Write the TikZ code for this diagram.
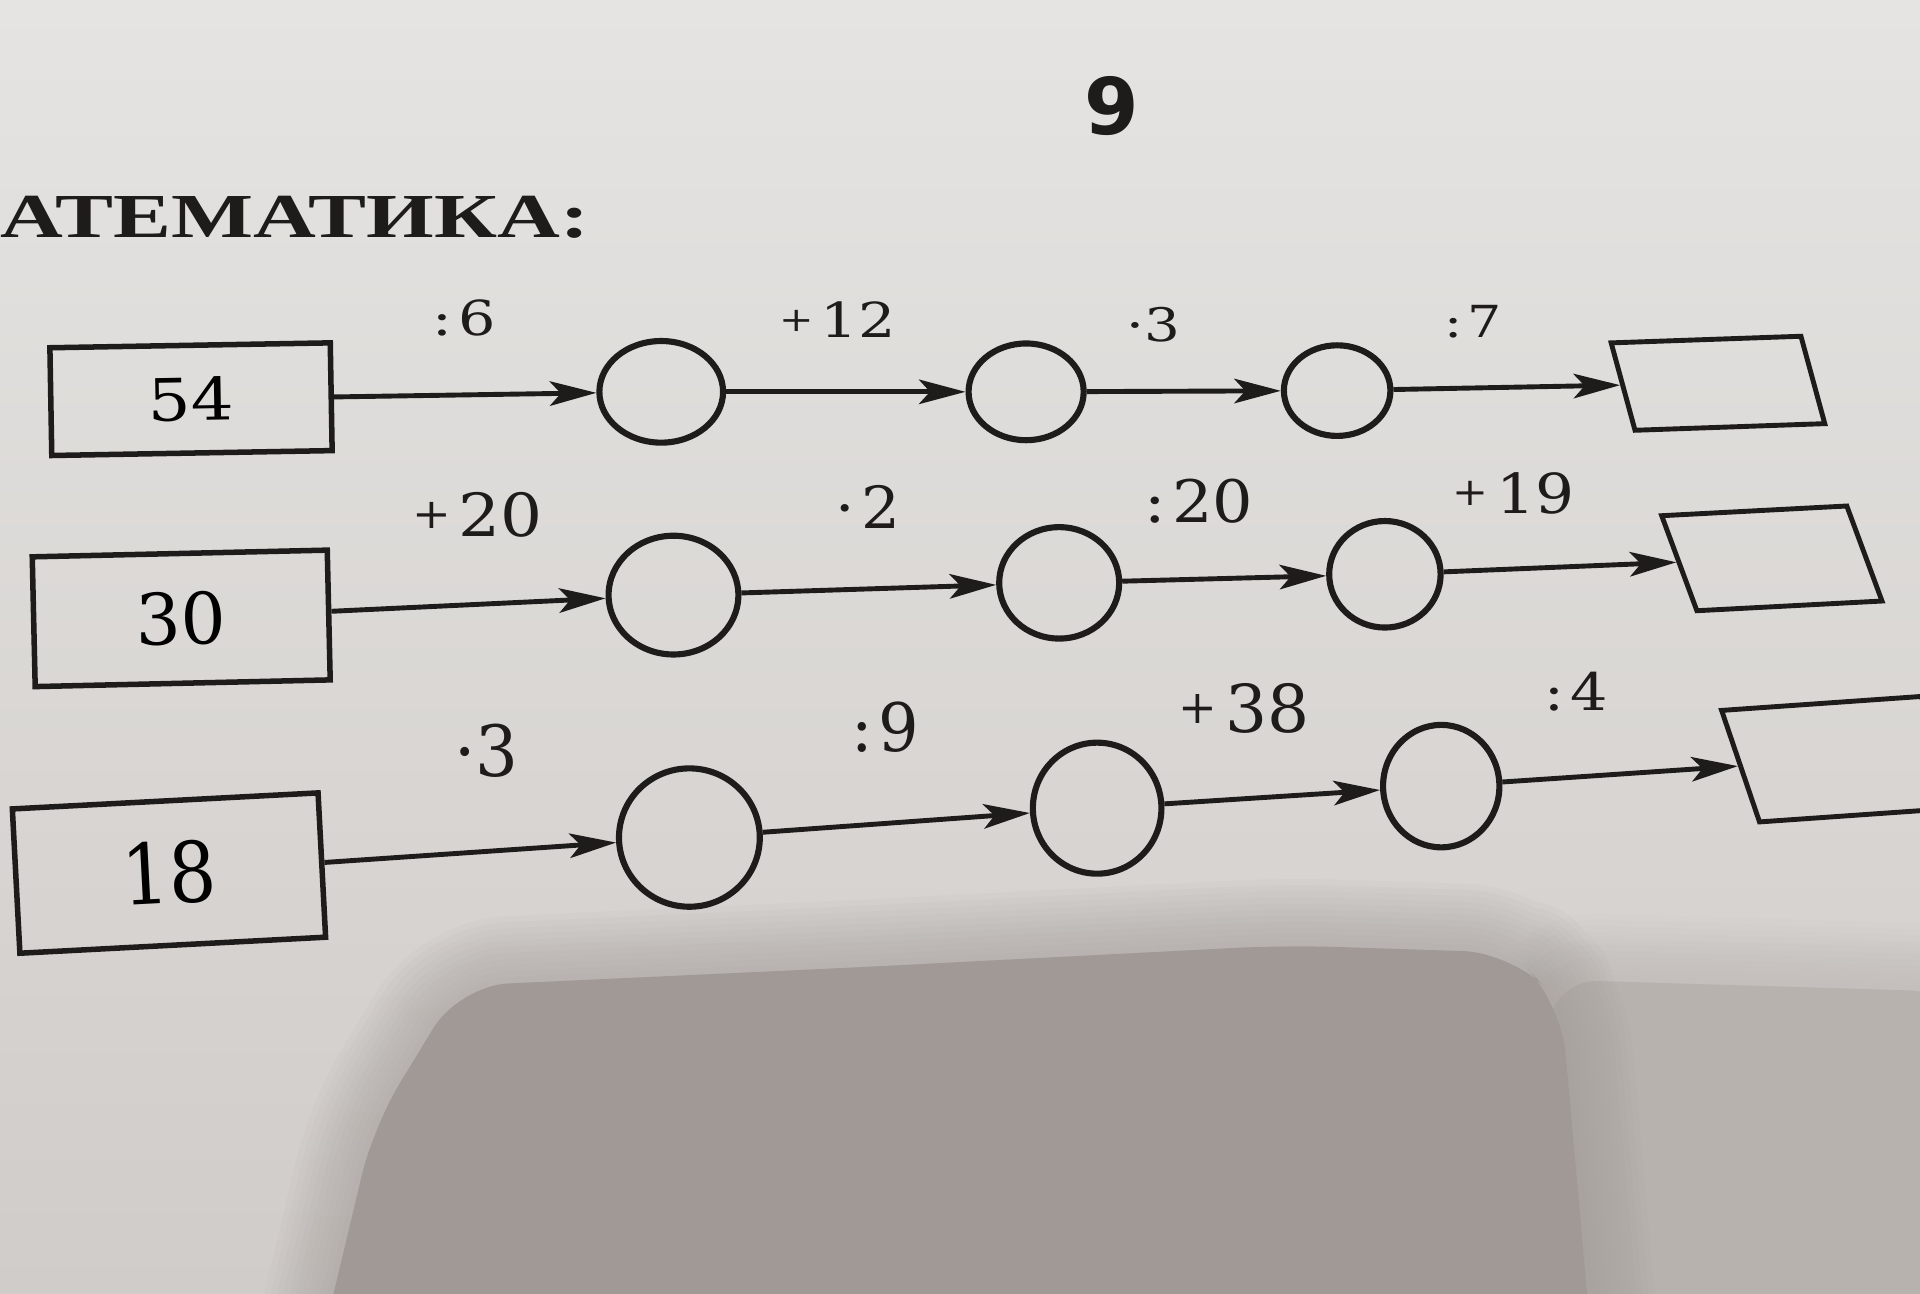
\documentclass[tikz,border=0pt]{standalone}
\usepackage{fontspec}
\usepackage{graphicx}
\usetikzlibrary{shapes.geometric,arrows.meta}
\newfontfamily\titlefont{Liberation Serif}
\newfontfamily\pagenumfont{DejaVu Sans}
\newfontfamily\numfont{DejaVu Serif}
\definecolor{ink}{RGB}{30,27,27}
\definecolor{paper}{RGB}{229,228,226}
\definecolor{paperlow}{RGB}{208,204,201}
\definecolor{shadowc}{RGB}{160,153,150}
\definecolor{shadowr}{RGB}{184,178,175}
\newcommand\fsz[1]{\fontsize{#1}{#1}\selectfont}
\newcommand\vs[2]{\scalebox{1}[#1]{#2}}
\newcommand\pl{\raisebox{0.13em}{\scalebox{0.7}{+}}}
\begin{document}
\begin{tikzpicture}[x=1pt,y=-1pt,
  numbox/.style={draw=ink, line width=4.5pt, rectangle, inner sep=0pt, font=\numfont},
  oval/.style={draw=ink, line width=5pt, ellipse, inner sep=0pt},
  ansbox/.style={draw=ink, line width=4pt, trapezium, trapezium stretches=true, inner sep=1pt},
  arr/.style={draw=ink, line width=4pt, -{Stealth[length=38pt,width=20pt,inset=9pt]}},
  lab/.style={anchor=base, inner sep=0pt, text=ink, font=\numfont},
]
\useasboundingbox (0,0) rectangle (1568,1056);
% paper and shadow
\shade[top color=paper, bottom color=paperlow] (0,0) rectangle (1568,1056);
\begin{scope}
  \clip (0,0) rectangle (1568,1056);
  \foreach \w in {110,100,...,10}{
    \draw[shadowr, opacity=0.06, line width=\w pt, line join=round, rounded corners=40pt]
      (1265,800) -- (1600,810) -- (1600,1100) -- (1265,1100) -- cycle;
  }
  \fill[shadowr, rounded corners=40pt] (1265,800) -- (1600,810) -- (1600,1100) -- (1265,1100) -- cycle;
  \foreach \w in {110,100,...,10}{
    \draw[shadowc, opacity=0.06, line width=\w pt, line join=round, rounded corners=40pt]
      (375,805) -- (700,790) -- (1050,772) -- (1235,778) -- (1275,820) -- (1300,1100) -- (262,1100) -- (305,920) -- cycle;
  }
  \fill[shadowc, rounded corners=40pt]
      (375,805) -- (700,790) -- (1050,772) -- (1235,778) -- (1275,820) -- (1300,1100) -- (262,1100) -- (305,920) -- cycle;
\end{scope}
% title and page number
\node[anchor=base, inner sep=0pt, text=ink] (pg) at (908,110) {\pagenumfont\bfseries\fsz{64}9};
\node[anchor=base west, inner sep=0pt, text=ink] (title) at (0,194) {\titlefont\bfseries\fsz{71}\vs{0.72}{АТЕМАТИКА:}};
% row 1
\node[numbox, minimum width=229, minimum height=88, rotate=1] (b1) at (156,326) {\fsz{55}\vs{0.87}{54}};
\node[oval, minimum width=101, minimum height=83] (a1) at (540,320) {};
\node[oval, minimum width=94, minimum height=79] (a2) at (838,320) {};
\node[oval, minimum width=87, minimum height=74] (a3) at (1092,319) {};
\node[ansbox, trapezium left angle=97, trapezium right angle=83, minimum width=172, minimum height=72, rotate=2] (r1) at (1403,313) {};
\draw[arr] (b1) -- (a1);
\draw[arr] (a1) -- (a2);
\draw[arr] (a2) -- (a3);
\draw[arr] (a3) -- (r1);
\node[lab] (l11) at (379,274) {\fsz{48}\vs{0.82}{:\kern.1em6}};
\node[lab] (l12) at (684,276) {\fsz{48}\vs{0.82}{\pl\kern.12em12}};
\node[lab] (l13) at (942,279) {\fsz{46}\vs{0.82}{·3}};
\node[lab] (l14) at (1203,276) {\fsz{44}\vs{0.82}{:\kern.1em7}};
% row 2
\node[numbox, minimum width=241, minimum height=106, rotate=1.3] (b2) at (148,505) {\fsz{58}\vs{1.0}{30}};
\node[oval, minimum width=106, minimum height=97] (bb1) at (550,486) {};
\node[oval, minimum width=98, minimum height=91] (bb2) at (865,476) {};
\node[oval, minimum width=91, minimum height=87] (bb3) at (1131,469) {};
\node[ansbox, trapezium left angle=101, trapezium right angle=79, minimum width=176, minimum height=79, rotate=3] (r2) at (1447,456) {};
\draw[arr] (b2) -- (bb1);
\draw[arr] (bb1) -- (bb2);
\draw[arr] (bb2) -- (bb3);
\draw[arr] (bb3) -- (r2);
\node[lab] (l21) at (390,438) {\fsz{54}\vs{0.9}{\pl\kern.12em20}};
\node[lab] (l22) at (709,432) {\fsz{50}\vs{0.95}{·\kern.1em2}};
\node[lab] (l23) at (979,427) {\fsz{52}\vs{0.92}{:\kern.1em20}};
\node[lab] (l24) at (1236,419) {\fsz{50}\vs{0.9}{\pl\kern.12em19}};
% row 3
\node[numbox, minimum width=250, minimum height=118, rotate=3] (b3) at (138,713) {\fsz{61}\vs{1.12}{18}};
\node[oval, minimum width=115, minimum height=113] (c1) at (563,684) {};
\node[oval, minimum width=105, minimum height=107] (c2) at (896,660) {};
\node[oval, minimum width=95, minimum height=100] (c3) at (1177,642) {};
\node[ansbox, trapezium left angle=100, trapezium right angle=80, minimum width=188, minimum height=93, rotate=4] (r3) at (1503,620) {};
\draw[arr] (b3) -- (c1);
\draw[arr] (c1) -- (c2);
\draw[arr] (c2) -- (c3);
\draw[arr] (c3) -- (r3);
\node[lab] (l31) at (397,634) {\fsz{55}\vs{1.05}{·3}};
\node[lab] (l32) at (723,614) {\fsz{52}\vs{1.05}{:\kern.1em9}};
\node[lab] (l33) at (1016,598) {\fsz{54}\vs{1.0}{\pl\kern.12em38}};
\node[lab] (l34) at (1287,580) {\fsz{48}\vs{0.88}{:\kern.1em4}};
\end{tikzpicture}
\end{document}
